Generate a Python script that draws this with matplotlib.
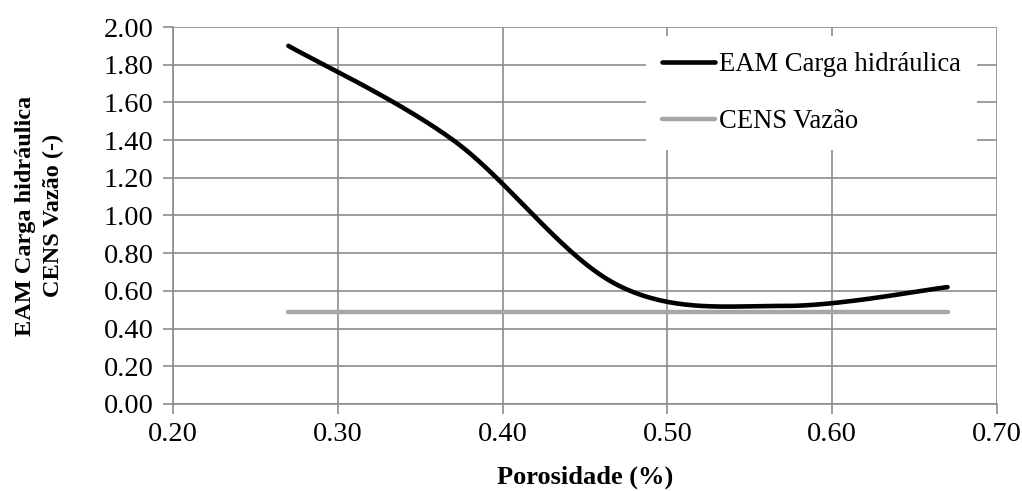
import numpy as np
import matplotlib
matplotlib.use("Agg")
import matplotlib.pyplot as plt
from matplotlib.ticker import FormatStrFormatter, MultipleLocator

# Porosity values and model responses
porosidade = [0.27, 0.37, 0.47, 0.57, 0.67]
eam_carga = [1.90, 1.40, 0.63, 0.52, 0.62]
cens_vazao = [0.49, 0.49, 0.49, 0.49, 0.49]

serie_labels = ["EAM Carga hidráulica", "CENS Vazão"]
xlabel = "Porosidade (%)"
ylabel = "EAM Carga hidráulica\nCENS Vazão (-)"


def smooth_curve(x, y, n=60):
    """Spreadsheet-style smoothed line: cubic Bezier segments through each point."""
    x = np.asarray(x, float)
    y = np.asarray(y, float)
    px = np.concatenate([[x[0]], x, [x[-1]]])
    py = np.concatenate([[y[0]], y, [y[-1]]])
    xs, ys = [], []
    t = np.linspace(0, 1, n)
    for i in range(1, len(px) - 2):
        p0 = np.array([px[i], py[i]])
        p3 = np.array([px[i + 1], py[i + 1]])
        c1 = p0 + (np.array([px[i + 1], py[i + 1]]) - np.array([px[i - 1], py[i - 1]])) / 6
        c2 = p3 - (np.array([px[i + 2], py[i + 2]]) - np.array([px[i], py[i]])) / 6
        b = ((1 - t) ** 3)[:, None] * p0 + (3 * (1 - t) ** 2 * t)[:, None] * c1 \
            + (3 * (1 - t) * t ** 2)[:, None] * c2 + (t ** 3)[:, None] * p3
        xs.append(b[:, 0])
        ys.append(b[:, 1])
    return np.concatenate(xs), np.concatenate(ys)


plt.rcParams["font.family"] = ["Liberation Serif", "DejaVu Serif"]
FS = 20.5

fig = plt.figure(figsize=(10.22, 4.91), dpi=100)
ax = fig.add_axes([0.1693, 0.1772, 0.8062, 0.7678])

grid_color = "#8c8c8c"

sx, sy = smooth_curve(porosidade, eam_carga)
ax.plot(sx, sy, color="black", lw=3.3, solid_capstyle="round",
        label=serie_labels[0], zorder=4)
ax.plot(porosidade, cens_vazao, color="#a6a6a6", lw=3.2, solid_capstyle="round",
        label=serie_labels[1], zorder=3)

ax.set_xlim(0.20, 0.70)
ax.set_ylim(0.0, 2.0)
ax.xaxis.set_major_locator(MultipleLocator(0.10))
ax.yaxis.set_major_locator(MultipleLocator(0.20))
ax.xaxis.set_major_formatter(FormatStrFormatter("%.2f"))
ax.yaxis.set_major_formatter(FormatStrFormatter("%.2f"))

ax.grid(True, color=grid_color, lw=1.2, zorder=0)
ax.set_axisbelow(True)
for side in ["top", "right"]:
    ax.spines[side].set_visible(False)
for side in ["left", "bottom"]:
    ax.spines[side].set_color(grid_color)
    ax.spines[side].set_linewidth(1.2)

ax.tick_params(axis="both", direction="out", length=7, width=1.2,
               color=grid_color, labelsize=FS, labelcolor="black")
ax.tick_params(axis="x", pad=6)
ax.tick_params(axis="y", pad=7)

ax.set_xlabel(xlabel, fontsize=19, fontweight="bold")
ax.xaxis.set_label_coords(0.5, -0.163)
ax.set_ylabel(ylabel, fontsize=17.5, fontweight="bold", linespacing=1.45)
ax.yaxis.set_label_coords(-0.132, 0.5)

leg = ax.legend(loc="upper left", bbox_to_anchor=(0.574, 0.975),
                frameon=True, fancybox=False, framealpha=1.0,
                facecolor="white", edgecolor="none",
                fontsize=19.2, handlelength=1.98, handletextpad=0.15,
                labelspacing=1.2, borderpad=0.6, borderaxespad=0)

fig.savefig("out.png", dpi=100)
